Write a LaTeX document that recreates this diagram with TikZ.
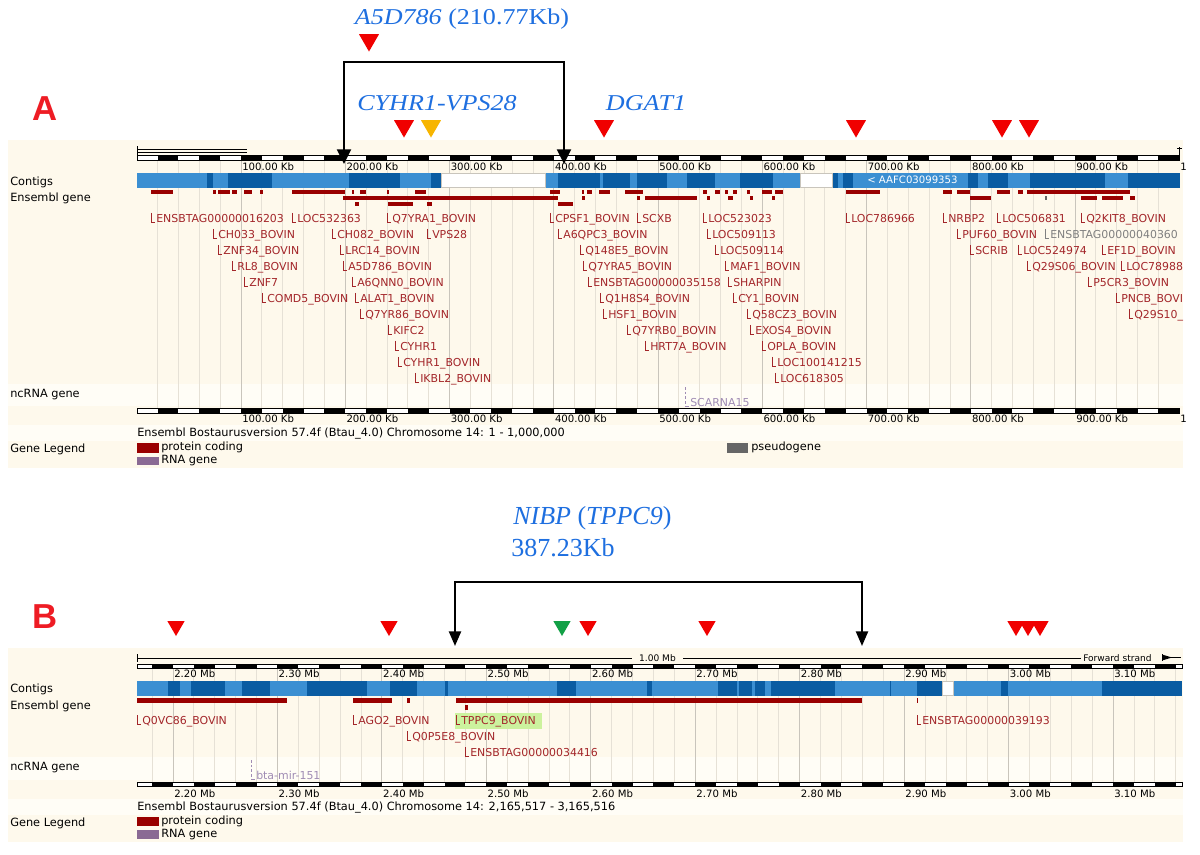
\documentclass[tikz,border=0pt]{standalone}
\usepackage{fontspec}
\setmainfont{DejaVu Sans}
\newfontfamily\tnrA{Liberation Serif}[FakeStretch=1.15]
\newfontfamily\tnrB{Liberation Serif}
\newfontfamily\helv{Liberation Sans}
\usetikzlibrary{arrows.meta,shapes.geometric}
\definecolor{cream}{HTML}{FEF9EC}
\definecolor{creamlt}{HTML}{FFFDF6}
\definecolor{gridc}{HTML}{E6E1D6}
\definecolor{gridd}{HTML}{C9C5BC}
\definecolor{ctgL}{HTML}{3B8FD2}
\definecolor{ctgD}{HTML}{0A5CA2}
\definecolor{genebar}{HTML}{990000}
\definecolor{genetxt}{HTML}{A3262A}
\definecolor{rnac}{HTML}{8A6A94}
\definecolor{rnatxt}{HTML}{A08CB4}
\definecolor{pseudo}{HTML}{666666}
\definecolor{greytxt}{HTML}{808080}
\definecolor{ttlblue}{HTML}{1E6FE0}
\definecolor{mkred}{HTML}{F00000}
\definecolor{mkorange}{HTML}{F7B500}
\definecolor{mkgreen}{HTML}{12A046}
\definecolor{lblred}{HTML}{EE1C24}
\definecolor{hlgreen}{HTML}{CCF29E}
\newcommand\fGene{\fontsize{8.2}{9}\selectfont}
\newcommand\fRul{\fontsize{7.6}{9}\selectfont}
\newcommand\fLab{\fontsize{8.5}{9}\selectfont}
\newcommand\fEns{\fontsize{8.5}{10}\selectfont}
\newcommand\fTiny{\fontsize{6.8}{8}\selectfont}
\begin{document}
\begin{tikzpicture}[x=0.75pt,y=-0.75pt,
  gl/.style={anchor=base west,inner sep=0pt,font=\fGene,text=genetxt},
  lg/.style={genetxt,line width=0.5pt},
  rlab/.style={anchor=west,inner sep=0pt,font=\fRul},
  lab/.style={anchor=west,inner sep=0pt,font=\fLab},
  ens/.style={anchor=west,inner sep=0pt,font=\fEns},
  rbox/.style={fill=white,draw=black,line width=0.5pt},
  gridl/.style={draw=gridc,line width=0.6pt},
  gridk/.style={draw=gridd,line width=0.7pt},
  mkA/.style={regular polygon,regular polygon sides=3,shape border rotate=180,inner sep=0pt,minimum size=17.3pt,draw=none},
  mkB/.style={mkA,minimum size=15pt},
  brk/.style={line width=1.6pt,arrows={Triangle[width=10.5pt,length=11pt]-Triangle[width=10.5pt,length=11pt]}},
  brkB/.style={line width=1.7pt,arrows={Triangle[width=9pt,length=11pt]-Triangle[width=9pt,length=11pt]}},
  ttl/.style={text=ttlblue,inner sep=0pt},
  big/.style={text=lblred,inner sep=0pt,font=\helv\bfseries\fontsize{26}{28}\selectfont},
  wgap/.style={fill=white,draw=gridd,line width=0.4pt},
]
\useasboundingbox (0,0) rectangle (1200,854);
\fill[white] (0,0) rectangle (1200,854);

%================ PANEL A =================
\fill[cream] (8,140) rectangle (1183,468);
\fill[creamlt] (8,384) rectangle (1183,406);
\fill[creamlt] (8,425) rectangle (1183,441);
% grid
\foreach \k in {1,...,49} \draw[gridl] ({136.75+20.85*\k},160) -- ({136.75+20.85*\k},408);
\foreach \k in {5,10,...,45} \draw[gridk] ({136.75+20.85*\k},160) -- ({136.75+20.85*\k},408);
% scale bar top-left
\draw[line width=0.5pt] (137,146) -- (137,155);
\draw[line width=0.5pt] (137,149) -- (247,149);
\draw[line width=0.5pt] (137,152.5) -- (247,152.5);
\draw[line width=0.5pt] (1179.5,147) -- (1179.5,155);
\draw[line width=0.5pt] (1177,148.5) -- (1182,148.5);
% rulers
\foreach \yy in {155,408}{
  \draw[rbox] (137,\yy) rectangle (1179.25,\yy+5);
  \foreach \k in {0,...,24} \fill ({136.75+20.85*(1+2*\k)},\yy) rectangle ({136.75+20.85*(2+2*\k)},\yy+5);
}
\foreach \k in {1,...,9}{
  \node[rlab] (rat\k) at ({136.75+104.25*\k+1},167) {\k00.00 Kb};
  \node[rlab] (rab\k) at ({136.75+104.25*\k+1},419) {\k00.00 Kb};
}
\node[rlab] (rat10) at (1180,167) {1};
\node[rlab] (rab10) at (1180,419) {1};
% contigs
\fill[ctgL] (137,173) rectangle (1180,188);
\foreach \a/\b in {207/213,228/272,349/400,431/441,558/600,603/630,637/667,687/715,740/773,832/838,843/853,968/978,988/1008,1030/1105,1128/1180}
  \fill[ctgD] (\a,173) rectangle (\b,188);
\draw[wgap] (441,173.3) rectangle (545,187.7);
\draw[wgap] (800,173.3) rectangle (832,187.7);
\node[anchor=west,inner sep=0pt,font=\fRul,text=white] (ctgname) at (867,179.5) {< AAFC03099353};
% gene bars
\foreach \a/\b in {151/173,213/216,218/230,232/237,244/252,260/263,292/345,352/354,360/366,387/389,415/426,550/560,582/584,587/592,599/610,625/643,703/707,715/720,725/728,733/737,747/750,762/772,775/783,846/880,943/952,957/970,997/1010,1018/1023,1027/1130}
  \fill[genebar] (\a,189.5) rectangle (\b,194);
\foreach \a/\b in {343/558,582/585,637/640,645/697,707/710,728/733,750/753,772/775,970/991,1081/1097,1102/1123,1130/1135}
  \fill[genebar] (\a,195.7) rectangle (\b,200.2);
\fill[pseudo] (1045,195.7) rectangle (1046.5,200.2);
\foreach \a/\b in {355/359,388/413,427/432,558/573}
  \fill[genebar] (\a,201.7) rectangle (\b,206.2);
% gene labels
\foreach \x/\r/\t [count=\i] in {151/1/ENSBTAG00000016203, 292/1/LOC532363, 387/1/Q7YRA1\_BOVIN, 550/1/CPSF1\_BOVIN, 637/1/SCXB, 703/1/LOC523023, 846/1/LOC786966, 943/1/NRBP2, 997/1/LOC506831, 1081/1/Q2KIT8\_BOVIN,
213/2/CH033\_BOVIN, 332/2/CH082\_BOVIN, 427/2/VPS28, 558/2/A6QPC3\_BOVIN, 707/2/LOC509113, 957/2/PUF60\_BOVIN,
218/3/ZNF34\_BOVIN, 340/3/LRC14\_BOVIN, 580/3/Q148E5\_BOVIN, 715/3/LOC509114, 970/3/SCRIB, 1018/3/LOC524974, 1102/3/EF1D\_BOVIN,
232/4/RL8\_BOVIN, 343/4/A5D786\_BOVIN, 583/4/Q7YRA5\_BOVIN, 725/4/MAF1\_BOVIN, 1027/4/Q29S06\_BOVIN, 1121/4/LOC78988,
244/5/ZNF7, 352/5/A6QNN0\_BOVIN, 588/5/ENSBTAG00000035158, 728/5/SHARPIN, 1088/5/P5CR3\_BOVIN,
262/6/COMD5\_BOVIN, 355/6/ALAT1\_BOVIN, 600/6/Q1H8S4\_BOVIN, 733/6/CY1\_BOVIN, 1116/6/PNCB\_BOVI,
360/7/Q7YR86\_BOVIN, 603/7/HSF1\_BOVIN, 747/7/Q58CZ3\_BOVIN, 1129/7/Q29S10\_,
388/8/KIFC2, 627/8/Q7YRB0\_BOVIN, 750/8/EXOS4\_BOVIN,
395/9/CYHR1, 645/9/HRT7A\_BOVIN, 762/9/OPLA\_BOVIN,
398/10/CYHR1\_BOVIN, 772/10/LOC100141215,
415/11/IKBL2\_BOVIN, 775/11/LOC618305}{
  \pgfmathsetmacro\yb{222.3+16*(\r-1)}
  \draw[lg] ({\x+0.5},{\yb-9.5}) |- ({\x+4},\yb);
  \node[gl] (ga\i) at ({\x+5},\yb) {\t};
}
\draw[greytxt,line width=0.5pt] (1045.5,228.8) |- (1049,238.3);
\node[gl,text=greytxt] (gaP) at (1050,238.3) {ENSBTAG00000040360};
% ncRNA
\draw[rnatxt,line width=0.5pt,dash pattern=on 2pt off 1.5pt] (685.5,387) -- (685.5,406);
\draw[rnatxt,line width=0.5pt] (685.5,406) -- (689,406);
\node[gl,text=rnatxt] (scarna) at (690,406) {SCARNA15};
% left labels
\node[lab] (lcA) at (10,182) {Contigs};
\node[lab] (leA) at (10,198) {Ensembl gene};
\node[lab] (lnA) at (10,395) {ncRNA gene};
\node[lab] (lgA) at (10,449) {Gene Legend};
\node[ens] (ensA) at (137,434) {Ensembl Bostaurusversion 57.4f (Btau\_4.0) Chromosome 14: 1 - 1,000,000};
\fill[genebar] (137,443) rectangle (159,452.5);
\node[lab] (lpA) at (161,447.5) {protein coding};
\fill[rnac] (137,456.5) rectangle (159,465);
\node[lab] (lrA) at (161,461) {RNA gene};
\fill[pseudo] (727,443) rectangle (748,452.5);
\node[lab] (lsA) at (751,447.5) {pseudogene};

% annotations A
\node[big] (letA) at (45,108.5) {A};
\node[ttl,font=\tnrA\fontsize{17}{20}\selectfont] (tA5) at (462,19) {\itshape A5D786\upshape{} (210.77Kb)};
\node[ttl,font=\tnrA\fontsize{17}{20}\selectfont\itshape] (tCY) at (437,103) {CYHR1-VPS28};
\node[ttl,font=\tnrA\fontsize{17}{20}\selectfont\itshape] (tDG) at (646,103) {DGAT1};
\node[mkA,fill=mkred] (mA0) at (369,40) {};
\node[mkA,fill=mkred] (mA1) at (404,126) {};
\node[mkA,fill=mkorange] (mA2) at (431,126) {};
\node[mkA,fill=mkred] (mA3) at (604,126) {};
\node[mkA,fill=mkred] (mA4) at (856,126) {};
\node[mkA,fill=mkred] (mA5) at (1002,126) {};
\node[mkA,fill=mkred] (mA6) at (1029,126) {};
\coordinate (bAl) at (344,164);
\coordinate (bAlt) at (344,62);
\coordinate (bArt) at (564,62);
\coordinate (bAr) at (564,164);
\draw[brk] (bAl) -- (bAlt) -- (bArt) -- (bAr);

%================ PANEL B =================
\fill[cream] (8,648) rectangle (1183,842);
\fill[creamlt] (8,757) rectangle (1183,780);
\fill[creamlt] (8,799) rectangle (1183,815);
\foreach \j in {0,...,49} \draw[gridl] ({152.11+20.889*\j},669) -- ({152.11+20.889*\j},782);
\foreach \j in {1,6,...,46} \draw[gridk] ({152.11+20.889*\j},669) -- ({152.11+20.889*\j},782);
% 1.00 Mb line
\draw[line width=0.5pt] (137,654) -- (137,662);
\draw[line width=0.5pt] (137,658) -- (632,658);
\draw[line width=0.5pt] (683,658) -- (1081,658);
\node[anchor=center,inner sep=0pt,font=\fTiny] (mb1) at (657.5,658) {1.00 Mb};
\node[anchor=west,inner sep=0pt,font=\fTiny] (fwd) at (1083,658) {Forward strand};
\fill (1162,654.5) -- (1172,657.5) -- (1162,660.5) -- cycle;
\draw[line width=0.6pt] (1162,657.5) -- (1181,657.5);
\draw[line width=0.6pt] (1162,654) -- (1162,661);
% rulers
\foreach \yy in {664,782}{
  \draw[rbox] (137,\yy) rectangle (1182,\yy+4.5);
  \foreach \k in {0,...,24} \fill ({152.11+41.778*\k},\yy) rectangle ({173+41.778*\k},\yy+4.5);
}
\foreach \m/\t in {0/2.20,1/2.30,2/2.40,3/2.50,4/2.60,5/2.70,6/2.80,7/2.90,8/3.00,9/3.10}{
  \node[rlab] (rbt\m) at ({173+104.444*\m+1},674) {\t\ Mb};
  \node[rlab] (rbb\m) at ({173+104.444*\m+1},794) {\t\ Mb};
}
% contigs
\fill[ctgL] (137,681) rectangle (1182,696);
\foreach \a/\b in {168/180,191/225,242/270,307/367,390/417,445/448,557/576,647/652,718/737,739/752,755/765,771/835,890/891,917/942,1001/1008,1102/1182}
  \fill[ctgD] (\a,681) rectangle (\b,696);
\draw[wgap] (942,681.3) rectangle (953,695.7);
% genes
\foreach \a/\b in {137/287,353/392,407/410,456/862}
  \fill[genebar] (\a,698.3) rectangle (\b,703.3);
\fill[genebar] (916.5,698.3) rectangle (917.8,703.3);
\fill[genebar] (464.5,705) rectangle (467.5,709.5);
\fill[hlgreen] (455,712.7) rectangle (542,729.3);
\foreach \x/\r/\t [count=\i] in {137/1/Q0VC86\_BOVIN, 353/1/AGO2\_BOVIN, 456/1/TPPC9\_BOVIN, 917/1/ENSBTAG00000039193, 407/2/Q0P5E8\_BOVIN, 465/3/ENSBTAG00000034416}{
  \pgfmathsetmacro\yb{724.7+16*(\r-1)}
  \draw[lg] ({\x+0.5},{\yb-9.5}) |- ({\x+4},\yb);
  \node[gl] (gb\i) at ({\x+5},\yb) {\t};
}
\draw[rnatxt,line width=0.5pt,dash pattern=on 2pt off 1.5pt] (251.5,760) -- (251.5,779);
\draw[rnatxt,line width=0.5pt] (251.5,779) -- (255,779);
\node[gl,text=rnatxt] (mir) at (256,779) {bta-mir-151};
% left labels
\node[lab] (lcB) at (10,689) {Contigs};
\node[lab] (leB) at (10,706) {Ensembl gene};
\node[lab] (lnB) at (10,768) {ncRNA gene};
\node[lab] (lgB) at (10,823) {Gene Legend};
\node[ens] (ensB) at (137,807.5) {Ensembl Bostaurusversion 57.4f (Btau\_4.0) Chromosome 14: 2,165,517 - 3,165,516};
\fill[genebar] (137,817) rectangle (159,826);
\node[lab] (lpB) at (161,821.5) {protein coding};
\fill[rnac] (137,830) rectangle (159,838.5);
\node[lab] (lrB) at (161,834.5) {RNA gene};

% annotations B
\node[big] (letB) at (45,616.5) {B};
\node[ttl,anchor=west,font=\tnrB\fontsize{19.5}{22}\selectfont] (tNI) at (513,518) {\itshape NIBP\upshape{} (\itshape TPPC9\upshape)};
\node[ttl,anchor=west,font=\tnrB\fontsize{19.5}{22}\selectfont] (tKB) at (511,548) {387.23Kb};
\node[mkB,fill=mkred] (mB1) at (176,626) {};
\node[mkB,fill=mkred] (mB2) at (389,626) {};
\node[mkB,fill=mkgreen] (mB3) at (562,626) {};
\node[mkB,fill=mkred] (mB4) at (588,626) {};
\node[mkB,fill=mkred] (mB5) at (707,626) {};
\node[mkB,fill=mkred] (mB6) at (1016,626) {};
\node[mkB,fill=mkred] (mB7) at (1028,626) {};
\node[mkB,fill=mkred] (mB8) at (1040,626) {};
\coordinate (bBl) at (455,646);
\coordinate (bBlt) at (455,582);
\coordinate (bBrt) at (862,582);
\coordinate (bBr) at (862,646);
\draw[brkB] (bBl) -- (bBlt) -- (bBrt) -- (bBr);
\end{tikzpicture}
\end{document}
